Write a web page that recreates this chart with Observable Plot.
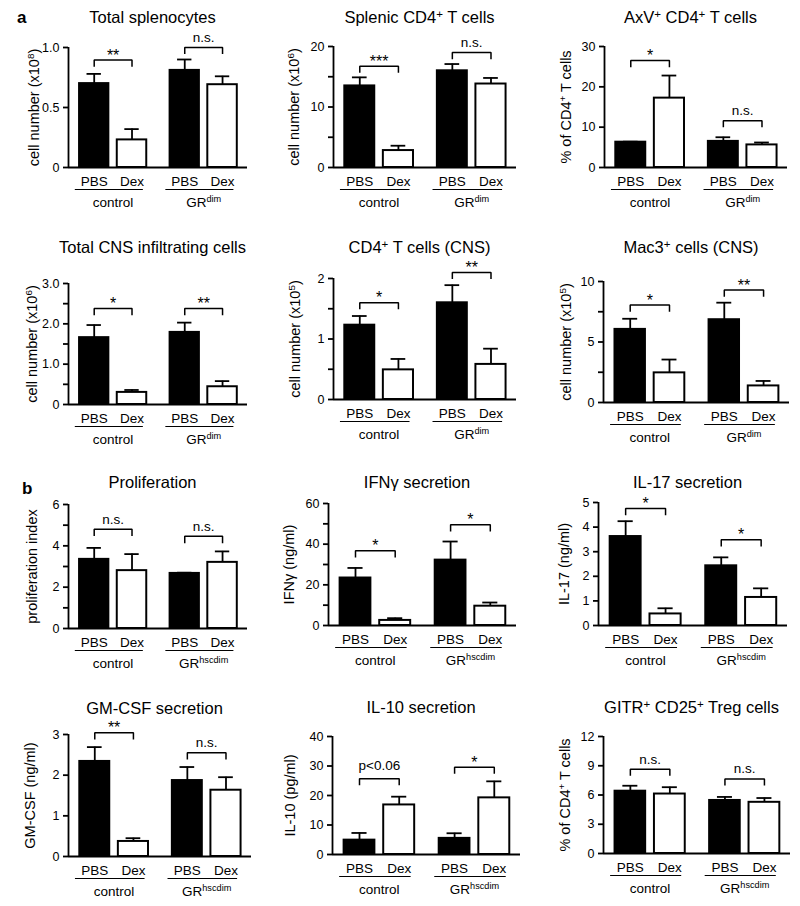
<!DOCTYPE html>
<html>
<head>
<meta charset="utf-8">
<script src="https://cdn.jsdelivr.net/npm/d3@7"></script>
<script src="https://cdn.jsdelivr.net/npm/@observablehq/plot@0.6"></script>
<style>
  body { margin: 0; background: #fff; font-family: "Liberation Sans", Arial, Helvetica, sans-serif; color: #000; }
  #root { position: relative; width: 800px; height: 906px; overflow: hidden; }
  .panel { position: absolute; }
  .title { position: absolute; font-size: 16.5px; white-space: nowrap; transform: translate(-50%, -50%); line-height: 1; }
  .title sup { font-size: 0.7em; vertical-align: 0.45em; line-height: 0; }
  .letter { position: absolute; font-weight: bold; font-size: 17px; line-height: 1; }
</style>
</head>
<body>
<div id="root"></div>
<script>
// ---------------- data ----------------
const titles = [
  "Total splenocytes", "Splenic CD4^{+} T cells", "AxV^{+} CD4^{+} T cells",
  "Total CNS infiltrating cells", "CD4^{+} T cells (CNS)", "Mac3^{+} cells (CNS)",
  "Proliferation", "IFNγ secretion", "IL-17 secretion",
  "GM-CSF secretion", "IL-10 secretion", "GITR^{+} CD25^{+} Treg cells"
];
const yLabels = [
  "cell number (x10^{8})", "cell number (x10^{6})", "% of CD4^{+} T cells",
  "cell number (x10^{6})", "cell number (x10^{5})", "cell number (x10^{5})",
  "proliferation index", "IFNγ (ng/ml)", "IL-17 (ng/ml)",
  "GM-CSF (ng/ml)", "IL-10 (pg/ml)", "% of CD4^{+} T cells"
];
const treatments = ["PBS", "Dex"];
const groupsA = ["control", "GR^{dim}"];
const groupsB = ["control", "GR^{hscdim}"];
const panelLetters = ["a", "b"];

// bar order: control PBS, control Dex, GR PBS, GR Dex
const means = [
  [0.70, 0.23, 0.81, 0.69],
  [13.5, 2.8, 16.0, 13.8],
  [6.3, 17.2, 6.5, 5.6],
  [1.66, 0.30, 1.79, 0.44],
  [1.23, 0.49, 1.60, 0.58],
  [6.05, 2.45, 6.85, 1.37],
  [3.35, 2.80, 2.67, 3.20],
  [23.4, 2.5, 32.2, 9.5],
  [3.62, 0.47, 2.43, 1.14],
  [2.34, 0.37, 1.87, 1.63],
  [4.9, 16.8, 5.5, 19.2],
  [6.40, 6.10, 5.45, 5.25]
];
const sems = [
  [0.08, 0.09, 0.09, 0.07],
  [1.4, 0.8, 1.1, 1.0],
  [0.1, 5.6, 1.0, 0.6],
  [0.31, 0.06, 0.24, 0.14],
  [0.15, 0.18, 0.29, 0.26],
  [0.87, 1.1, 1.4, 0.41],
  [0.55, 0.80, 0.03, 0.53],
  [4.9, 1.1, 9.1, 1.8],
  [0.62, 0.23, 0.34, 0.37],
  [0.35, 0.08, 0.33, 0.32],
  [2.4, 2.8, 1.7, 5.6],
  [0.55, 0.70, 0.35, 0.44]
];
const sigLabels = [
  ["**", "n.s."], ["***", "n.s."], ["*", "n.s."],
  ["*", "**"], ["*", "**"], ["*", "**"],
  ["n.s.", "n.s."], ["*", "*"], ["*", "*"],
  ["**", "n.s."], ["p<0.06", "*"], ["n.s.", "n.s."]
];
const bracketY = [
  [0.895, 1.0], [16.75, 19.0], [26.5, 11.6],
  [2.38, 2.38], [1.60, 2.10], [8.05, 9.3],
  [4.8, 4.46], [36.8, 49.5], [4.76, 3.49],
  [3.04, 2.55], [25.7, 29.6], [8.63, 7.64]
];
const yMax = [1, 20, 30, 3, 2, 10, 6, 60, 5, 3, 40, 12];
const yTickValues = [
  [0, 0.5, 1],
  [0, 5, 10, 15, 20],
  [0, 10, 20, 30],
  [0, 0.5, 1, 1.5, 2, 2.5, 3],
  [0, 0.5, 1, 1.5, 2],
  [0, 2.5, 5, 7.5, 10],
  [0, 1, 2, 3, 4, 5, 6],
  [0, 10, 20, 30, 40, 50, 60],
  [0, 1, 2, 3, 4, 5],
  [0, 1, 2, 3],
  [0, 10, 20, 30, 40],
  [0, 3, 6, 9, 12]
];
const yTickLabels = [
  ["0", "0.5", "1.0"],
  ["0", "", "10", "", "20"],
  ["0", "10", "20", "30"],
  ["0", "", "1.0", "", "2.0", "", "3.0"],
  ["0", "", "1", "", "2"],
  ["0", "", "5", "", "10"],
  ["0", "", "2", "", "4", "", "6"],
  ["0", "", "20", "", "40", "", "60"],
  ["0", "1", "2", "3", "4", "5"],
  ["0", "1", "2", "3"],
  ["0", "10", "20", "30", "40"],
  ["0", "3", "6", "9", "12"]
];

// ---------------- layout (pixels) ----------------
const axX      = [68, 333, 604, 68, 333, 603, 68, 328, 598, 68, 332, 603];
const axRight  = [247, 516, 787, 247, 516, 789, 247, 516, 787, 251, 520, 790];
const axTop    = [47, 46, 46, 283, 278, 281, 504, 503, 502, 734, 736, 736];
const axBottom = [167, 167, 167, 404, 399, 402, 628, 625, 625, 856, 854, 853];
const titleY   = [17, 17, 17, 247, 247, 247, 482, 482, 482, 708, 707, 707];
const yLabelOffset = [34, 39, 38, 36, 38, 37, 36, 39, 34, 38, 42, 38];
const letterPos = [[17, 9], [22, 480]];

const ML = 70, MR = 20, MT = 40, MB = 50;
const GROUP_STEP = 2.395, HALF_BAR = 0.39, CAP = 0.19;
const X_DOMAIN = [-0.68, 3.395 + 0.66];
const FONT = '"Liberation Sans", Arial, Helvetica, sans-serif';
const SW = 1.8;

// ------------- helpers -------------
const SVGNS = "http://www.w3.org/2000/svg";
function supify(svg) {
  svg.querySelectorAll("text").forEach(t => {
    const targets = t.querySelector("tspan") ? [...t.querySelectorAll("tspan")] : [t];
    for (const el of targets) {
      const s = el.textContent;
      if (!s.includes("^{")) continue;
      el.textContent = "";
      const re = /\^\{([^}]*)\}/g;
      let last = 0, m;
      while ((m = re.exec(s))) {
        if (m.index > last) el.appendChild(document.createTextNode(s.slice(last, m.index)));
        const sup = document.createElementNS(SVGNS, "tspan");
        sup.setAttribute("baseline-shift", "super");
        sup.style.fontSize = "0.68em";
        sup.textContent = m[1];
        el.appendChild(sup);
        last = re.lastIndex;
      }
      if (last < s.length) el.appendChild(document.createTextNode(s.slice(last)));
    }
  });
}
function htmlSup(el, s) {
  const re = /\^\{([^}]*)\}/g;
  let last = 0, m;
  while ((m = re.exec(s))) {
    if (m.index > last) el.appendChild(document.createTextNode(s.slice(last, m.index)));
    const sup = document.createElement("sup");
    sup.textContent = m[1];
    el.appendChild(sup);
    last = re.lastIndex;
  }
  if (last < s.length) el.appendChild(document.createTextNode(s.slice(last)));
}

const root = document.getElementById("root");

for (let i = 0; i < 12; i++) {
  const groups = i < 6 ? groupsA : groupsB;
  const rows = [];
  for (let g = 0; g < 2; g++) {
    for (let t = 0; t < 2; t++) {
      const k = g * 2 + t;
      rows.push({g, t, treat: treatments[t], pos: g * GROUP_STEP + t, mean: means[i][k], err: sems[i][k]});
    }
  }
  const drop = yMax[i] * 0.055;
  const brackets = [0, 1].map(g => ({
    g, x1: g * GROUP_STEP, x2: g * GROUP_STEP + 1, y: bracketY[i][g], label: sigLabels[i][g]
  }));
  const bracketPts = brackets.flatMap(b => [
    {k: b.g, x: b.x1, y: b.y - drop},
    {k: b.g, x: b.x1, y: b.y},
    {k: b.g, x: b.x2, y: b.y},
    {k: b.g, x: b.x2, y: b.y - drop}
  ]);
  const grp = [0, 1].map(g => ({
    x1: g * GROUP_STEP - 0.5, x2: g * GROUP_STEP + 1.3, cx: g * GROUP_STEP + 0.5, label: groups[g]
  }));
  const tickMap = new Map(yTickValues[i].map((v, j) => [v, yTickLabels[i][j]]));
  const isStar = d => /^\*+$/.test(d.label);

  const fw = axRight[i] - axX[i];
  const fh = axBottom[i] - axTop[i];

  const svg = Plot.plot({
    width: fw + ML + MR,
    height: fh + MT + MB,
    marginLeft: ML, marginRight: MR, marginTop: MT, marginBottom: MB,
    x: {domain: X_DOMAIN, axis: null},
    y: {domain: [0, yMax[i]], axis: null},
    style: {fontFamily: FONT, background: "transparent", overflow: "visible", color: "black"},
    marks: [
      Plot.ruleX(rows, {x: "pos", y1: "mean", y2: d => d.mean + d.err, stroke: "black", strokeWidth: SW}),
      Plot.ruleY(rows, {y: d => d.mean + d.err, x1: d => d.pos - CAP, x2: d => d.pos + CAP, stroke: "black", strokeWidth: SW}),
      Plot.rect(rows.filter(d => d.treat === "PBS"), {
        x1: d => d.pos - HALF_BAR, x2: d => d.pos + HALF_BAR, y1: 0, y2: "mean",
        fill: "black", stroke: "black", strokeWidth: SW
      }),
      Plot.rect(rows.filter(d => d.treat === "Dex"), {
        x1: d => d.pos - HALF_BAR, x2: d => d.pos + HALF_BAR, y1: 0, y2: "mean",
        fill: "white", stroke: "black", strokeWidth: SW * 1.1
      }),
      Plot.ruleY([0], {stroke: "black", strokeWidth: SW}),
      Plot.ruleX([X_DOMAIN[0]], {stroke: "black", strokeWidth: SW}),
      Plot.axisY({
        ticks: yTickValues[i], tickFormat: d => tickMap.get(d) ?? "",
        tickSize: 5, tickPadding: 4, fontSize: 12.5, label: null, strokeWidth: SW
      }),
      Plot.line(bracketPts, {x: "x", y: "y", z: "k", stroke: "black", strokeWidth: 1.5, strokeLinejoin: "miter", strokeLinecap: "butt"}),
      Plot.text(brackets.filter(isStar), {x: d => (d.x1 + d.x2) / 2, y: "y", text: "label", fontSize: 16, dy: -4.5}),
      Plot.text(brackets.filter(d => d.label === "n.s."), {x: d => (d.x1 + d.x2) / 2, y: "y", text: "label", fontSize: 13.5, dy: -10}),
      Plot.text(brackets.filter(d => d.label.startsWith("p")), {x: d => (d.x1 + d.x2) / 2, y: "y", text: "label", fontSize: 13.5, dy: -13}),
      Plot.text(rows, {x: "pos", y: 0, text: "treat", fontSize: 13.5, dy: 14}),
      Plot.ruleY(grp, {y: 0, x1: "x1", x2: "x2", dy: 22, stroke: "black", strokeWidth: 1.2}),
      Plot.text(grp, {x: "cx", y: 0, text: "label", fontSize: 13.5, dy: 35}),
      Plot.text([yLabels[i]], {
        text: d => d, frameAnchor: "left", textAnchor: "middle", lineAnchor: "middle",
        rotate: -90, dx: -yLabelOffset[i], fontSize: 14.5
      })
    ]
  });
  supify(svg);

  const div = document.createElement("div");
  div.className = "panel";
  div.style.left = (axX[i] - ML) + "px";
  div.style.top = (axTop[i] - MT) + "px";
  div.style.width = (fw + ML + MR) + "px";
  div.appendChild(svg);
  root.appendChild(div);

  const title = document.createElement("div");
  title.className = "title";
  title.style.left = ((axX[i] + axRight[i]) / 2 - 5) + "px";
  title.style.top = titleY[i] + "px";
  htmlSup(title, titles[i]);
  root.appendChild(title);
}

panelLetters.forEach((L, j) => {
  const el = document.createElement("div");
  el.className = "letter";
  el.style.left = letterPos[j][0] + "px";
  el.style.top = letterPos[j][1] + "px";
  el.textContent = L;
  root.appendChild(el);
});
</script>
</body>
</html>
